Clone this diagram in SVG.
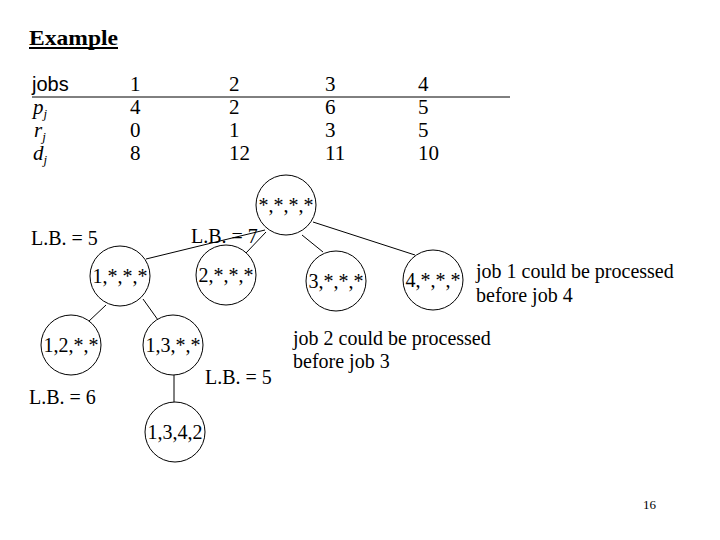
<svg xmlns="http://www.w3.org/2000/svg" width="720" height="540" viewBox="0 0 720 540">
<style>
.serif{font-family:"Liberation Serif","Times New Roman",serif;fill:#000}
.sans{font-family:"Liberation Sans",Arial,sans-serif;fill:#000}
.node circle{fill:#fff;stroke:#000;stroke-width:1}
.node text{font-family:"Liberation Serif","Times New Roman",serif;font-size:20px;text-anchor:middle}
.lab{font-size:20px}
.tab{font-size:21px}
.it{font-style:italic}
#connectors line{stroke:#000;stroke-width:1}
</style>
<rect width="720" height="540" fill="#fff"/>
<g id="title">
<text class="serif" x="29" y="45" font-size="21" font-weight="bold" textLength="89" lengthAdjust="spacingAndGlyphs">Example</text>
<line x1="29" y1="48" x2="118" y2="48" stroke="#000" stroke-width="2"/>
</g>
<g id="table">
<text class="sans" x="32" y="91" font-size="20">jobs</text>
<line x1="32" y1="97" x2="510" y2="97" stroke="#000" stroke-width="1"/>
<text class="serif it tab" x="33" y="114">p<tspan font-size="13" dy="4">j</tspan></text>
<text class="serif it tab" x="34" y="137">r<tspan font-size="13" dy="4">j</tspan></text>
<text class="serif it tab" x="33" y="160">d<tspan font-size="13" dy="4">j</tspan></text>
<g class="serif tab">
<text x="130" y="91">1</text><text x="229" y="91">2</text><text x="325" y="91">3</text><text x="418" y="91">4</text>
<text x="130" y="114">4</text><text x="229" y="114">2</text><text x="325" y="114">6</text><text x="418" y="114">5</text>
<text x="130" y="137">0</text><text x="229" y="137">1</text><text x="325" y="137">3</text><text x="418" y="137">5</text>
<text x="130" y="160">8</text><text x="229" y="160">12</text><text x="325" y="160">11</text><text x="418" y="160">10</text>
</g>
</g>
<g id="connectors">
<line x1="146" y1="259" x2="265" y2="230"/>
<line x1="246" y1="253" x2="266" y2="232"/>
<line x1="302" y1="235" x2="323" y2="252"/>
<line x1="313" y1="222" x2="415" y2="255"/>
<line x1="106" y1="305" x2="88" y2="322"/>
<line x1="143" y1="299" x2="158" y2="320"/>
<line x1="174" y1="375" x2="174" y2="402"/>
</g>
<g id="n-root" class="node"><circle cx="286" cy="205" r="30"/><text x="286" y="212">*,*,*,*</text></g>
<g id="n1" class="node"><circle cx="120" cy="276" r="30"/><text x="120" y="283">1,*,*,*</text></g>
<g id="n2" class="node"><circle cx="226" cy="275" r="30"/><text x="226" y="282">2,*,*,*</text></g>
<g id="n3" class="node"><circle cx="336" cy="281" r="30"/><text x="336" y="288">3,*,*,*</text></g>
<g id="n4" class="node"><circle cx="433" cy="280" r="30"/><text x="433" y="287">4,*,*,*</text></g>
<g id="n12" class="node"><circle cx="71" cy="345" r="30"/><text x="71" y="352">1,2,*,*</text></g>
<g id="n13" class="node"><circle cx="173" cy="345" r="30"/><text x="173" y="352">1,3,*,*</text></g>
<g id="n1342" class="node"><circle cx="175" cy="432" r="30"/><text x="175" y="439">1,3,4,2</text></g>
<g id="labels" class="serif lab">
<text x="31" y="245">L.B. = 5</text>
<text x="191" y="243">L.B. = 7</text>
<text x="29" y="404">L.B. = 6</text>
<text x="205" y="384">L.B. = 5</text>
<text x="476" y="278">job 1 could be processed</text>
<text x="476" y="302">before job 4</text>
<text x="293" y="345">job 2 could be processed</text>
<text x="293" y="368">before job 3</text>
<text x="643" y="509" font-size="13">16</text>
</g>
</svg>
